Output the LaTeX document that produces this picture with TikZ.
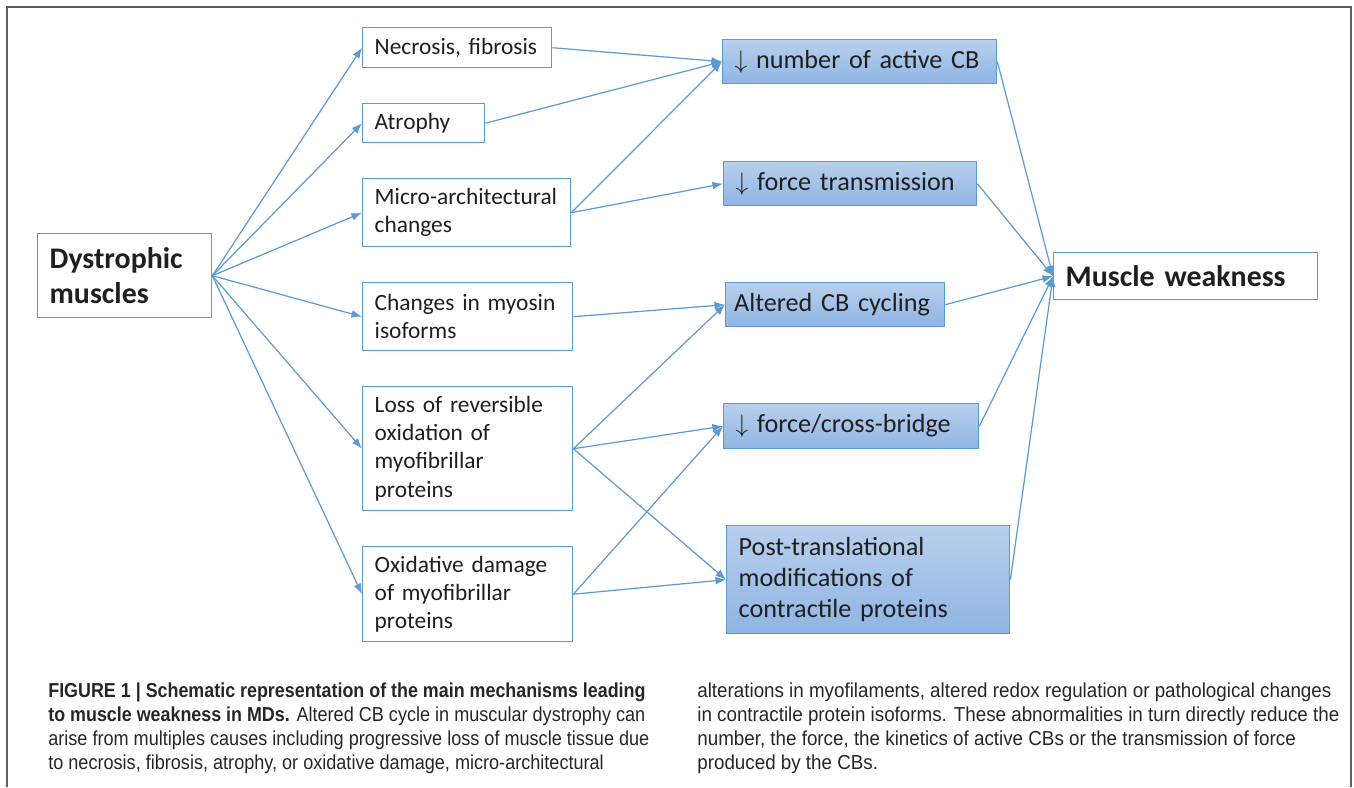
\documentclass[tikz,border=0pt]{standalone}
\usepackage{fontspec}
\setmainfont{Carlito}
\newfontfamily\capfont[FakeStretch=0.93]{Liberation Sans}
\newfontfamily\capleft[FakeStretch=0.895]{Liberation Sans}
\newfontfamily\capbold[FakeStretch=0.885]{Liberation Sans Bold}
\usetikzlibrary{arrows.meta}
\definecolor{boxblue}{RGB}{91,155,213}
\definecolor{filltop}{RGB}{184,207,237}
\definecolor{fillbot}{RGB}{143,181,227}
\definecolor{framegray}{RGB}{95,95,95}
\hyphenpenalty=10000
\exhyphenpenalty=10000

\begin{document}
\begin{tikzpicture}[x=0.02cm,y=-0.02cm,>={Latex[length=6pt,width=4.5pt]},
  cause/.style={draw=boxblue,line width=0.8pt,fill=white,anchor=north west,align=left,inner xsep=0.24cm,inner ysep=0pt,text=black!88,font=\fontsize{13.3}{16}\selectfont},
  effect/.style={cause,top color=filltop,bottom color=fillbot,font=\fontsize{14.9}{17.8}\selectfont},
  mainbox/.style={cause,font=\fontsize{17}{20.4}\selectfont\bfseries},
  link/.style={->,draw=boxblue,line width=0.7pt},
  capt/.style={anchor=north west,align=left,inner sep=0pt,text=black!85,font=\capfont\fontsize{11.5}{13.7}\selectfont}]
\useasboundingbox (0,0) rectangle (1354,787);
\draw[framegray,line width=1pt] (7,787) -- (7,7) -- (1351,7) -- (1351,787);
% left side
\node[mainbox,text width=3.00cm,minimum height=1.68cm] (dm) at (37,233) {Dystrophic\\muscles};
\node[cause,text width=3.30cm,minimum height=0.80cm] (nec) at (362,27) {Necrosis, fibrosis};
\node[cause,text width=1.96cm,minimum height=0.78cm] (atr) at (362,103) {Atrophy};
\node[cause,text width=3.68cm,minimum height=1.36cm] (mic) at (362,178) {Micro-architectural\\changes};
\node[cause,text width=3.72cm,minimum height=1.36cm] (myo) at (362,282) {Changes in myosin\\isoforms};
\node[cause,text width=3.72cm,minimum height=2.48cm] (rev) at (362,386) {Loss of reversible\\oxidation of\\myofibrillar\\proteins};
\node[cause,text width=3.72cm,minimum height=1.90cm] (oxd) at (362,546) {Oxidative damage\\of myofibrillar\\proteins};
% right side
\node[effect,text width=5.00cm,minimum height=0.88cm] (ncb) at (722,39) {$\downarrow$ number of active CB};
\node[effect,text width=4.58cm,minimum height=0.88cm] (ftr) at (723,161) {$\downarrow$ force transmission};
\node[effect,text width=4.04cm,inner xsep=0.17cm,minimum height=0.88cm] (acb) at (725,282) {Altered CB cycling};
\node[effect,text width=4.62cm,minimum height=0.90cm] (fcb) at (723,403) {$\downarrow$ force/cross-bridge};
\node[effect,text width=5.18cm,minimum height=2.16cm] (ptm) at (726,525) {Post-translational\\modifications of\\contractile proteins};
\node[mainbox,text width=4.80cm,minimum height=0.94cm] (mw) at (1053,252) {Muscle weakness};
\draw[link] (dm.east) -- (nec.west);
\draw[link] (dm.east) -- (atr.west);
\draw[link] (dm.east) -- (mic.west);
\draw[link] (dm.east) -- (myo.west);
\draw[link] (dm.east) -- (rev.west);
\draw[link] (dm.east) -- (oxd.west);
\draw[link] (nec.east) -- (ncb.west);
\draw[link] (atr.east) -- (ncb.west);
\draw[link] (mic.east) -- (ncb.west);
\draw[link] (mic.east) -- (ftr.west);
\draw[link] (myo.east) -- (acb.west);
\draw[link] (rev.east) -- (acb.west);
\draw[link] (rev.east) -- (fcb.west);
\draw[link] (rev.east) -- (ptm.west);
\draw[link] (oxd.east) -- (fcb.west);
\draw[link] (oxd.east) -- (ptm.west);
\draw[link] (ncb.east) -- (mw.west);
\draw[link] (ftr.east) -- (mw.west);
\draw[link] (acb.east) -- (mw.west);
\draw[link] (fcb.east) -- (mw.west);
\draw[link] (ptm.east) -- (mw.west);
% caption
\node[capt,font=\capleft\fontsize{11.5}{13.7}\selectfont] (capl) at (48,682) {{\capbold FIGURE 1 | Schematic representation of the main mechanisms leading}\\
  {\capbold to muscle weakness in MDs.} Altered CB cycle in muscular dystrophy can\\
  arise from multiples causes including progressive loss of muscle tissue due\\
  to necrosis, fibrosis, atrophy, or oxidative damage, micro-architectural};
\node[capt] (capr) at (697,682) {alterations in myofilaments, altered redox regulation or pathological changes\\
  in contractile protein isoforms. These abnormalities in turn directly reduce the\\
  number, the force, the kinetics of active CBs or the transmission of force\\
  produced by the CBs.};
\end{tikzpicture}
\end{document}
